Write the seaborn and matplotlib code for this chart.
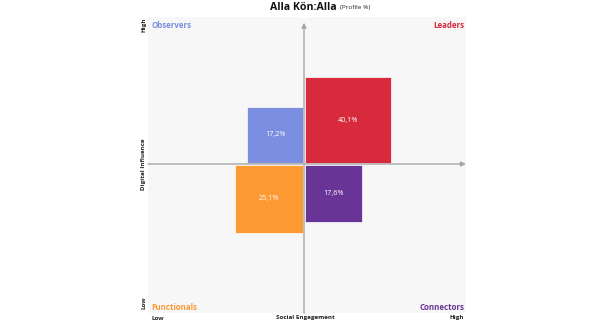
import numpy as np
import seaborn as sns
import matplotlib.pyplot as plt

sns.set_theme(style="white")
plt.rcParams['font.family'] = ['Open Sans', 'DejaVu Sans']

# Profile shares per quadrant (percent)
segments = ["Observers", "Leaders", "Functionals", "Connectors"]
shares = [17.2, 40.1, 25.1, 17.6]
x_sign = [-1, 1, -1, 1]
y_sign = [1, 1, -1, -1]
colors = ["#7b8ee0", "#d72a3d", "#fd9a33", "#683496"]
value_labels = ["17,2%", "40,1%", "25,1%", "17,6%"]

fig = plt.figure(figsize=(6, 3.24), dpi=100)
ax = fig.add_axes([148 / 600, 1 - 313 / 324, 318 / 600, 296 / 324])
ax.set_facecolor("#f7f7f7")
for s in ax.spines.values():
    s.set_visible(False)

XLIM = (-1.149, 1.193)
YLIM = (-1.097, 1.082)
ax.set_xlim(*XLIM)
ax.set_ylim(*YLIM)
ax.set_xticks([])
ax.set_yticks([])

gap = 0.006
for seg, v, sx, sy, c, lab in zip(segments, shares, x_sign, y_sign, colors, value_labels):
    side = np.sqrt(v / 100)
    ax.bar(sx * gap, sy * side, width=sx * side, bottom=sy * gap, align="edge",
           color=c, edgecolor="white", linewidth=0.5, zorder=2)
    ax.text(sx * (gap + side / 2), sy * (gap + side / 2), lab, color="white",
            ha="center", va="center", fontsize=5.2, zorder=4)

# Quadrant axes with arrow heads
line_kw = dict(arrowstyle="-|>", color="#a6a6a6", lw=1.0, mutation_scale=7,
               shrinkA=0, shrinkB=0)
ax.annotate("", xy=(0, 1.04), xytext=(0, YLIM[0]), arrowprops=line_kw, zorder=3)
ax.annotate("", xy=(XLIM[1], 0), xytext=(XLIM[0], 0), arrowprops=line_kw, zorder=3,
            annotation_clip=False)

# Quadrant names
qkw = dict(transform=ax.transAxes, fontsize=5.7, fontweight="bold")
ax.text(0.01, 0.985, "Observers", color=colors[0], ha="left", va="top", **qkw)
ax.text(0.995, 0.985, "Leaders", color=colors[1], ha="right", va="top", **qkw)
ax.text(0.01, 0.005, "Functionals", color=colors[2], ha="left", va="bottom", **qkw)
ax.text(0.995, 0.005, "Connectors", color=colors[3], ha="right", va="bottom", **qkw)

# Axis captions
ckw = dict(fontsize=4.5, fontweight="bold", color="#222222")
fig.text(144 / 600, 1 - 25 / 324, "High", rotation=90, ha="center", va="center", **ckw)
fig.text(144 / 600, 1 - 164 / 324, "Digital Influence", rotation=90, ha="center",
         va="center", **ckw)
fig.text(144 / 600, 1 - 303 / 324, "Low", rotation=90, ha="center", va="center", **ckw)
fig.text(151 / 600, 1 - 318 / 324, "Low", ha="left", va="center", **ckw)
fig.text(305 / 600, 1 - 318 / 324, "Social Engagement", ha="center", va="center", **ckw)
fig.text(464 / 600, 1 - 318 / 324, "High", ha="right", va="center", **ckw)

# Title
fig.text(303.5 / 600, 1 - 8 / 324, "Alla Kön:Alla", ha="center", va="center",
         fontsize=7.6, fontweight="bold", color="#111111")
fig.text(340 / 600, 1 - 8 / 324, "(Profile %)", ha="left", va="center",
         fontsize=4.6, color="#222222")

fig.savefig("out.png", dpi=100, facecolor="white")
